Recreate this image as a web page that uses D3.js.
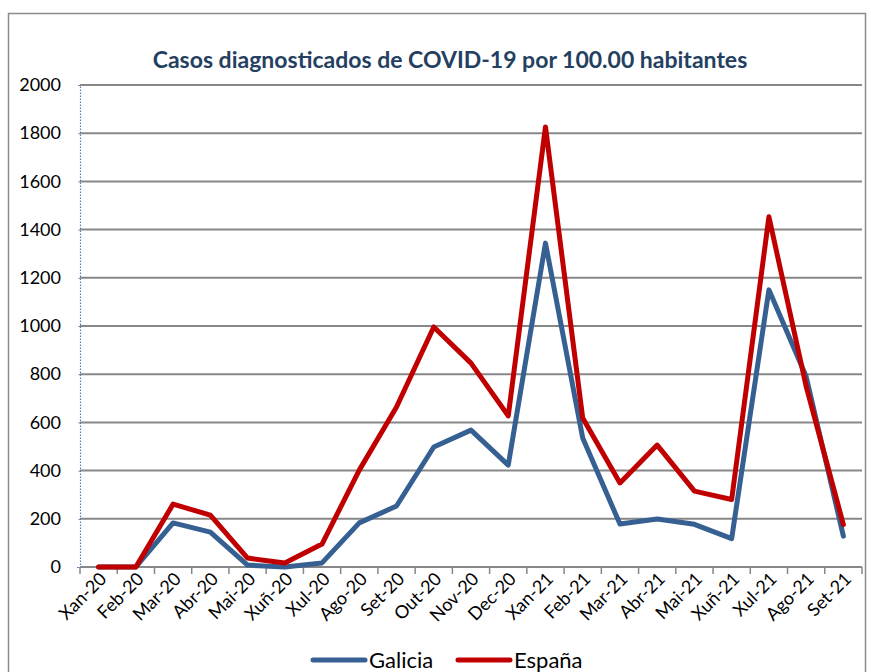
<!DOCTYPE html>
<html>
<head>
<meta charset="utf-8">
<script src="https://cdn.jsdelivr.net/npm/d3@7"></script>
<style>
  body { margin: 0; background: #fff; }
  svg { display: block; font-family: Lato, "Open Sans", sans-serif; }
</style>
</head>
<body>
<svg id="chart" width="871" height="672"></svg>
<script>
// COVID-19 cases per 100,000, Galicia vs España

const months = ['Xan-20', 'Feb-20', 'Mar-20', 'Abr-20', 'Mai-20', 'Xuñ-20', 'Xul-20',
                'Ago-20', 'Set-20', 'Out-20', 'Nov-20', 'Dec-20', 'Xan-21', 'Feb-21',
                'Mar-21', 'Abr-21', 'Mai-21', 'Xuñ-21', 'Xul-21', 'Ago-21', 'Set-21'];

const galicia = [0, 0, 183, 145, 8, 0, 17, 183, 253, 498, 568, 423, 1344, 535,
                 178, 199, 177, 118, 1150, 790, 128];
const espana  = [0, 0, 261, 215, 37, 17, 95, 402, 664, 996, 846, 627, 1826, 618,
                 349, 506, 315, 280, 1453, 750, 176];

const yTicks = [0, 200, 400, 600, 800, 1000, 1200, 1400, 1600, 1800, 2000];

const series = [
  { name: 'Galicia', values: galicia, colour: '#376092' },
  { name: 'España',  values: espana,  colour: '#C00000' }
];

const svg = d3.select('#chart');

// outer frame
svg.append('rect')
  .attr('x', 8.5).attr('y', 13.5)
  .attr('width', 857).attr('height', 680)
  .attr('fill', 'none')
  .attr('stroke', '#8c8c8c')
  .attr('stroke-width', 1.5);

// title
svg.append('text')
  .attr('x', 450).attr('y', 68)
  .attr('text-anchor', 'middle')
  .attr('font-weight', 'bold')
  .attr('font-size', 23)
  .attr('fill', '#243F60')
  .text('Casos diagnosticados  de COVID-19 por 100.00 habitantes');

const x = d3.scaleBand().domain(months).range([80, 862]);
const y = d3.scaleLinear().domain([0, 2000]).range([567, 85]);

// horizontal gridlines
svg.append('g')
  .selectAll('line')
  .data(yTicks)
  .join('line')
  .attr('x1', 80).attr('x2', 862)
  .attr('y1', d => y(d)).attr('y2', d => y(d))
  .attr('stroke', '#878787')
  .attr('stroke-width', 2);

// y axis
const yAxis = svg.append('g')
  .attr('transform', 'translate(80,0)')
  .call(d3.axisLeft(y).tickValues(yTicks).tickFormat(d3.format('d')).tickSize(3).tickPadding(16));
yAxis.select('.domain')
  .attr('stroke', '#4F81BD')
  .attr('stroke-width', 1.2)
  .attr('stroke-dasharray', '1.5,1.5');
yAxis.selectAll('.tick line')
  .attr('stroke', '#4F81BD')
  .attr('stroke-dasharray', '1.5,1.5');
yAxis.selectAll('.tick text')
  .attr('font-size', 18)
  .attr('font-family', 'Lato, sans-serif')
  .attr('fill', '#000');

// x axis: baseline with ticks on band edges
const xg = svg.append('g');
xg.append('line')
  .attr('x1', 80).attr('x2', 862)
  .attr('y1', 567).attr('y2', 567)
  .attr('stroke', '#878787').attr('stroke-width', 2);
xg.selectAll('line.tk')
  .data(months.concat(['end']))
  .join('line')
  .attr('class', 'tk')
  .attr('x1', (d, i) => 80 + i * x.step())
  .attr('x2', (d, i) => 80 + i * x.step())
  .attr('y1', 567).attr('y2', 574)
  .attr('stroke', '#878787').attr('stroke-width', 1.5);
xg.selectAll('text')
  .data(months)
  .join('text')
  .attr('transform', d => 'translate(' + (x(d) + x.bandwidth() / 2 + 9) + ',580) rotate(-45)')
  .attr('text-anchor', 'end')
  .attr('font-size', 18)
  .attr('fill', '#000')
  .text(d => d);

// lines
const line = d3.line()
  .x((d, i) => x(months[i]) + x.bandwidth() / 2)
  .y(d => y(d));

svg.append('g')
  .selectAll('path')
  .data(series)
  .join('path')
  .attr('d', d => line(d.values))
  .attr('fill', 'none')
  .attr('stroke', d => d.colour)
  .attr('stroke-width', 5)
  .attr('stroke-linejoin', 'round')
  .attr('stroke-linecap', 'round');

// legend
const legendX = [313, 458];
const legend = svg.append('g')
  .selectAll('g')
  .data(series)
  .join('g')
  .attr('transform', (d, i) => 'translate(' + legendX[i] + ',660)');
legend.append('line')
  .attr('x1', 0).attr('x2', 52)
  .attr('stroke', d => d.colour)
  .attr('stroke-width', 5)
  .attr('stroke-linecap', 'round');
legend.append('text')
  .attr('x', 56).attr('y', 8)
  .attr('font-size', 22)
  .attr('fill', '#000')
  .text(d => d.name);
</script>
</body>
</html>
